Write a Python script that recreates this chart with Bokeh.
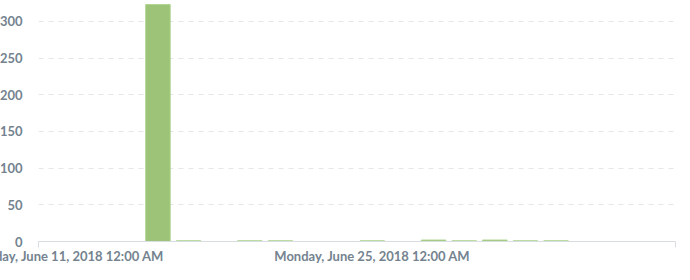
from bokeh.plotting import figure
from bokeh.models import Range1d, FixedTicker, ColumnDataSource
from bokeh.embed import file_html
from bokeh.resources import INLINE

# Ordinal positions of the categories (20 categories, 0..19)
bar_index = [3, 4, 6, 7, 10, 12, 13, 14, 15, 16]
counts = [323, 1, 1, 1, 1, 2, 1, 2, 1, 1]
tick_positions = [0, 10]
tick_labels = ["Monday, June 11, 2018 12:00 AM", "Monday, June 25, 2018 12:00 AM"]
y_ticks = [0, 50, 100, 150, 200, 250, 300]

SHIFT = 35  # part of the figure hidden past the left edge of the window

src = ColumnDataSource(dict(x=bar_index, top=counts))

p = figure(width=690 + SHIFT, height=280, output_backend="svg", toolbar_location=None,
           x_range=Range1d(-0.9, 19.9), y_range=Range1d(0, 328.6),
           min_border_left=38 + SHIFT, min_border_right=15, min_border_top=0, min_border_bottom=39)
p.styles = {"margin-left": f"-{SHIFT}px"}
p.outline_line_color = None
p.background_fill_color = "white"
p.border_fill_color = "white"

p.vbar(x="x", top="top", bottom=0, width=0.8, source=src,
       fill_color="#9dc378", line_color="#add58e", line_width=1)

TXT = "#74838f"

xa = p.xaxis[0]
xa.ticker = FixedTicker(ticks=tick_positions, minor_ticks=[-0.9, 19.9])
xa.major_label_overrides = {pos: lab for pos, lab in zip(tick_positions, tick_labels)}
xa.axis_line_color = "#d8dde1"
xa.axis_line_width = 1
xa.major_tick_line_color = None
xa.major_tick_out = 0
xa.major_tick_in = 0
xa.minor_tick_line_color = "#d8dde1"
xa.minor_tick_out = 6
xa.minor_tick_in = 0
xa.major_label_text_font = "Lato"
xa.major_label_text_font_style = "bold"
xa.major_label_text_font_size = "13px"
xa.major_label_text_color = TXT
xa.major_label_standoff = 0

ya = p.yaxis[0]
ya.ticker = FixedTicker(ticks=y_ticks)
ya.axis_line_color = None
ya.major_tick_line_color = None
ya.minor_tick_line_color = None
ya.major_label_text_font = "Lato"
ya.major_label_text_font_style = "bold"
ya.major_label_text_font_size = "13px"
ya.major_label_text_color = TXT
ya.major_label_standoff = 10

p.xgrid.grid_line_color = None
p.ygrid.grid_line_color = "#e6e6e6"
p.ygrid.grid_line_dash = "5 5"
p.ygrid.grid_line_width = 1

open("out.html", "w").write(file_html(p, INLINE))
